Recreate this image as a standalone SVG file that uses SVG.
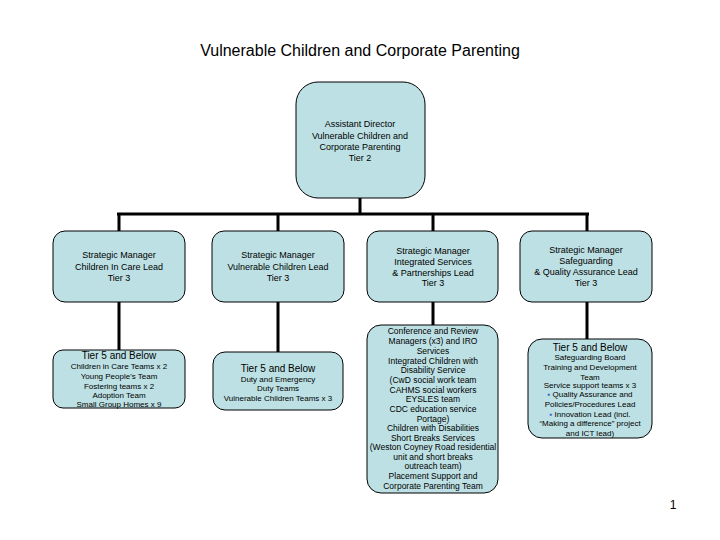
<svg xmlns="http://www.w3.org/2000/svg" width="720" height="540" viewBox="0 0 720 540">
<style>
.box{fill:#bde0e4;stroke:#000;stroke-width:1}
.t{font-family:"Liberation Sans",Arial,sans-serif;font-size:8px;fill:#000;text-anchor:middle}
.m{font-size:9px}
.k{font-size:8.5px}
.h{font-size:10px}
.title{font-family:"Liberation Sans",Arial,sans-serif;font-size:16px;fill:#000;text-anchor:middle}
.c{stroke:#000;stroke-width:3;fill:none}
.b{fill:#3366cc}
</style>
<rect width="720" height="540" fill="#fff"/>
<text class="title" x="360" y="56">Vulnerable Children and Corporate Parenting</text>
<text x="673" y="509" font-family="Liberation Sans,Arial,sans-serif" font-size="12" text-anchor="middle">1</text>
<g id="connectors">
<path class="c" d="M360 198V214M117 214H589M119 214V231M278 214V231M433 214V231M587 214V231"/>
<path class="c" d="M119 302V350M278 302V352M433 302V325M587 302V339"/>
</g>
<g id="n0">
<rect class="box" x="296" y="82" width="129" height="116" rx="22"/>
<text class="t m" x="360" y="127">Assistant Director</text>
<text class="t m" x="360" y="139">Vulnerable Children and</text>
<text class="t m" x="360" y="150">Corporate Parenting</text>
<text class="t m" x="360" y="161">Tier 2</text>
</g>
<g id="n1">
<rect class="box" x="53" y="231" width="132" height="71" rx="12"/>
<text class="t m" x="119" y="258">Strategic Manager</text>
<text class="t m" x="119" y="270">Children In Care Lead</text>
<text class="t m" x="119" y="281">Tier 3</text>
</g>
<g id="n2">
<rect class="box" x="212" y="231" width="132" height="71" rx="12"/>
<text class="t m" x="278" y="258">Strategic Manager</text>
<text class="t m" x="278" y="270">Vulnerable Children Lead</text>
<text class="t m" x="278" y="281">Tier 3</text>
</g>
<g id="n3">
<rect class="box" x="367" y="231" width="131" height="71" rx="12"/>
<text class="t m" x="433" y="254">Strategic Manager</text>
<text class="t m" x="433" y="265">Integrated Services</text>
<text class="t m" x="433" y="276">&amp; Partnerships Lead</text>
<text class="t m" x="433" y="286">Tier 3</text>
</g>
<g id="n4">
<rect class="box" x="520" y="231" width="132" height="71" rx="12"/>
<text class="t m" x="586" y="253">Strategic Manager</text>
<text class="t m" x="586" y="264">Safeguarding</text>
<text class="t m" x="586" y="275">&amp; Quality Assurance Lead</text>
<text class="t m" x="586" y="286">Tier 3</text>
</g>
<g id="n5">
<rect class="box" x="53" y="350" width="132" height="58" rx="10"/>
<text class="t h" x="119" y="359">Tier 5 and Below</text>
<text class="t" x="119" y="369">Children in Care Teams x 2</text>
<text class="t" x="119" y="379">Young People's Team</text>
<text class="t" x="119" y="389">Fostering teams x 2</text>
<text class="t" x="119" y="398">Adoption Team</text>
<text class="t" x="119" y="407">Small Group Homes x 9</text>
</g>
<g id="n6">
<rect class="box" x="213" y="352" width="130" height="58" rx="12"/>
<text class="t h" x="278" y="372">Tier 5 and Below</text>
<text class="t" x="278" y="382">Duty and Emergency</text>
<text class="t" x="278" y="391">Duty Teams</text>
<text class="t" x="278" y="401">Vulnerable Children Teams x 3</text>
</g>
<g id="n7">
<rect class="box" x="367" y="325" width="131" height="168" rx="14"/>
<text class="t k" x="433" y="334">Conference and Review</text>
<text class="t k" x="433" y="344">Managers (x3) and IRO</text>
<text class="t k" x="433" y="354">Services</text>
<text class="t k" x="433" y="364">Integrated Children with</text>
<text class="t k" x="433" y="373">Disability Service</text>
<text class="t k" x="433" y="383">(CwD social work team</text>
<text class="t k" x="433" y="393">CAHMS social workers</text>
<text class="t k" x="433" y="402">EYSLES team</text>
<text class="t k" x="433" y="412">CDC education service</text>
<text class="t k" x="433" y="422">Portage)</text>
<text class="t k" x="433" y="431">Children with Disabilities</text>
<text class="t k" x="433" y="441">Short Breaks Services</text>
<text class="t k" x="433" y="450">(Weston Coyney Road residential</text>
<text class="t k" x="433" y="460">unit and short breaks</text>
<text class="t k" x="433" y="469">outreach team)</text>
<text class="t k" x="433" y="479">Placement Support and</text>
<text class="t k" x="433" y="489">Corporate Parenting Team</text>
</g>
<g id="n8">
<rect class="box" x="528" y="339" width="124" height="99" rx="14"/>
<text class="t h" x="590" y="351">Tier 5 and Below</text>
<text class="t" x="590" y="360">Safeguarding Board</text>
<text class="t" x="590" y="370">Training and Development</text>
<text class="t" x="590" y="380">Team</text>
<text class="t" x="590" y="388">Service support teams x 3</text>
<text class="t" x="590" y="397"><tspan class="b">▪</tspan> Quality Assurance and</text>
<text class="t" x="590" y="407">Policies/Procedures Lead</text>
<text class="t" x="590" y="417"><tspan class="b">▪</tspan> Innovation Lead (incl.</text>
<text class="t" x="590" y="426">“Making a difference” project</text>
<text class="t" x="590" y="436">and ICT lead)</text>
</g>
</svg>
